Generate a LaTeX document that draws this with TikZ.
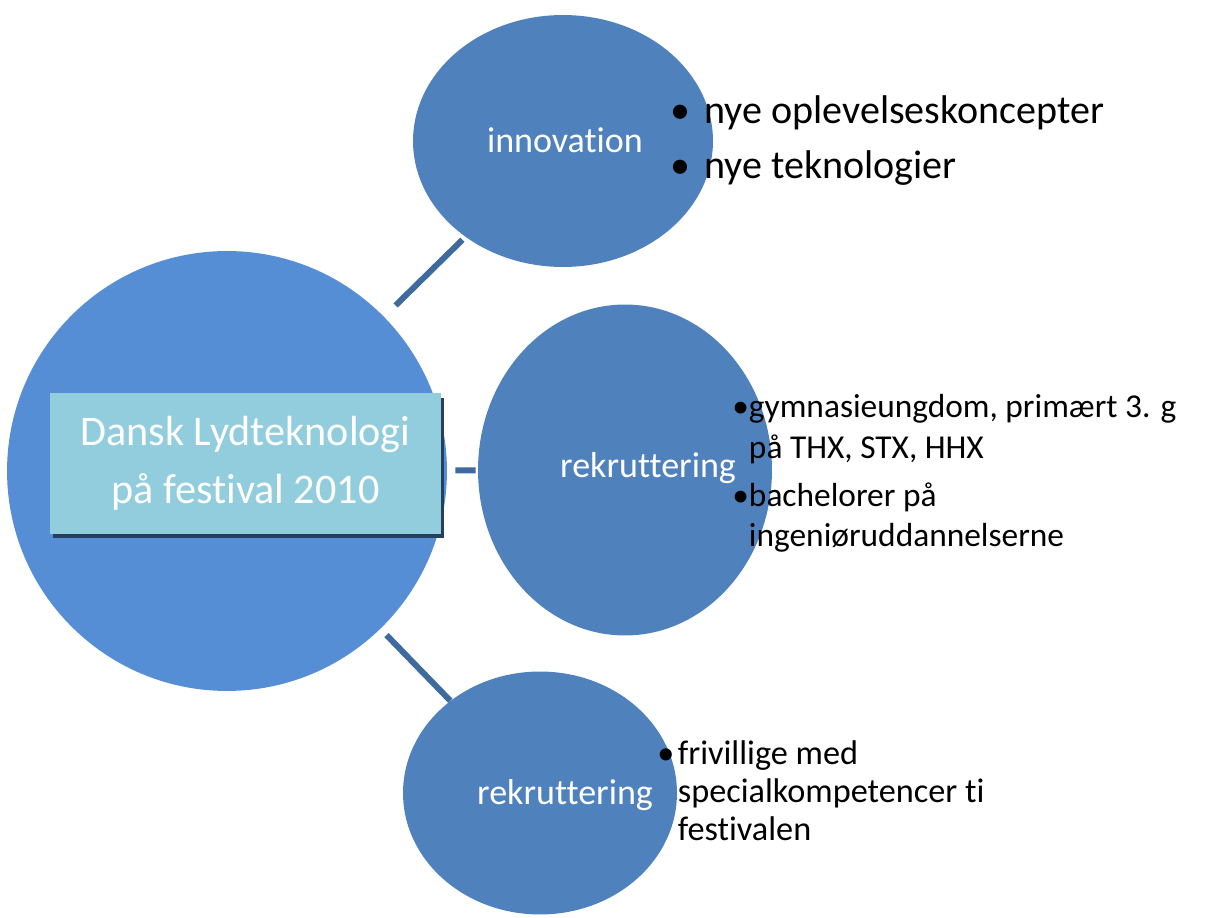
\documentclass[tikz,border=0pt]{standalone}
\usepackage{fontspec}
\setmainfont[Ligatures={NoCommon}]{Carlito}
\usetikzlibrary{shapes.geometric,shadows}
\definecolor{hubblue}{RGB}{85,142,213}
\definecolor{bubbleblue}{RGB}{79,129,189}
\definecolor{linkblue}{RGB}{62,106,158}
\definecolor{boxcyan}{RGB}{146,205,221}
\definecolor{shadowblue}{RGB}{36,63,96}
\begin{document}
\begin{tikzpicture}[x=0.02cm,y=-0.02cm,
	bubble/.style={ellipse,fill=bubbleblue,inner sep=0pt},
	link/.style={linkblue,line width=3.4pt},
	tag/.style={white,font=\fontsize{20.5}{24}\selectfont},
	items/.style={anchor=west,inner sep=0pt,align=left}]
	\useasboundingbox (0,0) rectangle (1211,918);
	\node[circle,fill=hubblue,minimum size=8.8cm,inner sep=0pt] (hub) at (227,471) {};
	\node[fill=boxcyan,minimum width=7.82cm,minimum height=2.82cm,align=center,text=white,
		font=\fontsize{24}{33}\selectfont,
		general shadow={fill=shadowblue,shadow xshift=0.06cm,shadow yshift=-0.09cm}] (title) at (245.5,463.5)
		{Dansk Lydteknologi\\på festival 2010};
	\node[bubble,minimum width=6cm,minimum height=5.04cm] (innov) at (563,141) {};
	\node[bubble,minimum width=5.88cm,minimum height=6.62cm] (rekrut) at (625,470) {};
	\node[bubble,minimum width=5.48cm,minimum height=4.86cm] (frivil) at (540,793) {};
	\draw[link,shorten <=0.32cm,shorten >=0.08cm] (hub) -- (innov);
	\draw[link,shorten <=0.16cm,shorten >=0.04cm] (hub) -- (rekrut);
	\draw[link,shorten <=0.17cm] (hub) -- (frivil);
	\node[tag] (innovtag) at (565,140) {innovation};
	\node[tag] (rekruttag) at (648,468) {rekruttering};
	\node[tag] (frivtag) at (565,795) {rekruttering};
	\node[items,font=\fontsize{22.8}{31}\selectfont] (innovlist) at (670,140)
		{\begin{tabular}{@{}c@{\hspace{8pt}}l@{}}
		\textbullet & nye oplevelseskoncepter\\
		\textbullet & nye teknologier
		\end{tabular}};
	\node[items,font=\fontsize{19}{23.2}\selectfont] (rekrutlist) at (732,474)
		{\begin{tabular}{@{}c@{\hspace{0pt}}l@{}}
		\textbullet & gymnasieungdom, primært 3. g\\
		& på THX, STX, HHX\\[4pt]
		\textbullet & bachelorer på\\
		& ingeniøruddannelserne
		\end{tabular}};
	\node[items,font=\fontsize{19.5}{21.5}\selectfont] (frivlist) at (657,795)
		{\begin{tabular}{@{}c@{\hspace{2pt}}l@{}}
		\textbullet & frivillige med\\
		& specialkompetencer ti\\
		& festivalen
		\end{tabular}};
\end{tikzpicture}
\end{document}
